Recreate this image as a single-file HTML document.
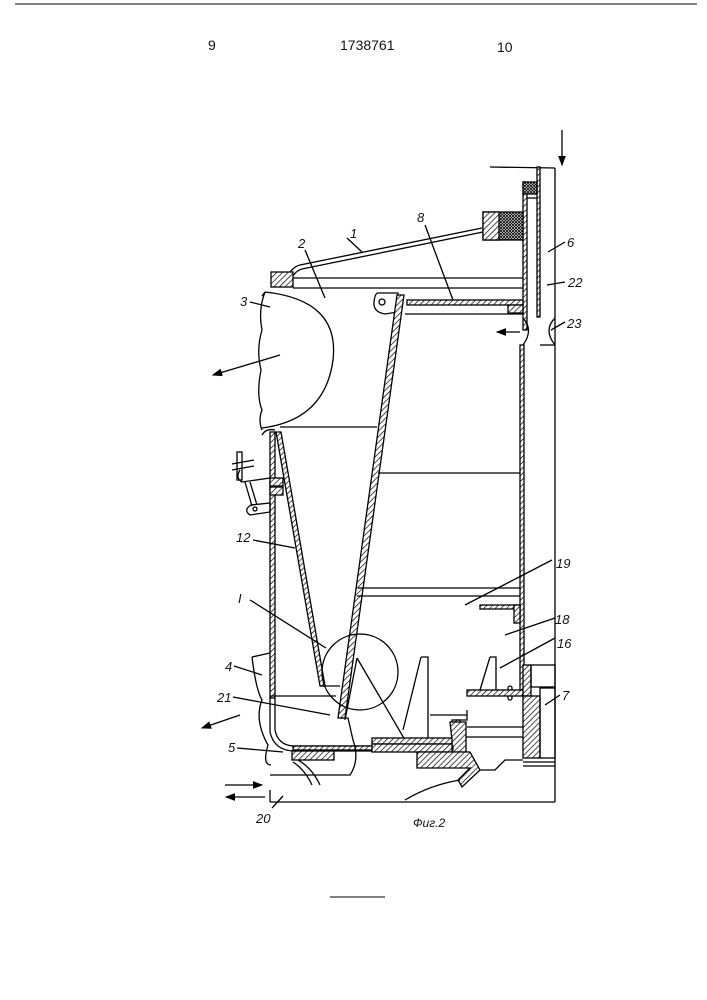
<!DOCTYPE html>
<html><head><meta charset="utf-8"><style>
html,body{margin:0;padding:0;background:#fff;}
svg{display:block}
text{font-family:"Liberation Sans",sans-serif;fill:#111}
.it{font-style:italic;font-size:13px}
</style></head><body>
<svg width="707" height="1000" viewBox="0 0 707 1000" xmlns="http://www.w3.org/2000/svg">
<defs>
<pattern id="h" width="4" height="4" patternUnits="userSpaceOnUse" patternTransform="rotate(45)">
<rect width="4" height="4" fill="#fff"/><line x1="0" y1="0" x2="0" y2="4" stroke="#000" stroke-width="1.4"/></pattern>
<pattern id="x" width="3" height="3" patternUnits="userSpaceOnUse">
<rect width="3" height="3" fill="#fff"/><path d="M0 0L3 3M3 0L0 3" stroke="#000" stroke-width="0.8"/></pattern>
<marker id="a" markerWidth="8" markerHeight="6" refX="7" refY="3" orient="auto"><path d="M0 0L8 3L0 6z" fill="#000"/></marker>
</defs>
<line x1="15" y1="4" x2="697" y2="4" stroke="#555" stroke-width="1.5"/>
<text x="208" y="50" font-size="14">9</text>
<text x="340" y="50" font-size="14">1738761</text>
<text x="497" y="52" font-size="14">10</text>
<line x1="330" y1="897" x2="385" y2="897" stroke="#000" stroke-width="1"/>

<g fill="none" stroke="#000" stroke-width="1.3">
<!-- right outer frame -->
<line x1="555" y1="168" x2="555" y2="802"/>
<line x1="490" y1="167" x2="555" y2="168"/>
<line x1="562" y1="130" x2="562" y2="165" marker-end="url(#a)"/>
<!-- column 6/22 -->
<rect x="537" y="167" width="3" height="150" fill="url(#h)"/>
<rect x="523" y="182" width="4" height="148" fill="url(#h)"/>
<rect x="523" y="182" width="14" height="12" fill="url(#x)"/>
<line x1="527" y1="198" x2="537" y2="198"/>
<!-- 23 orifice -->
<path d="M523 318 Q534 330 523 345"/><path d="M555 318 Q543 330 555 345"/>
<line x1="540" y1="345" x2="555" y2="345"/>
<line x1="520" y1="332" x2="497" y2="332" marker-end="url(#a)"/>
<!-- right wall lower -->
<rect x="520" y="345" width="4" height="345" fill="url(#h)"/>
<!-- top cover 1 -->
<path d="M290 272 Q295 266 300 265 L482 228"/>
<path d="M293 276 Q297 270 302 269 L483 232"/>
<rect x="483" y="212" width="40" height="28" fill="url(#x)"/>
<rect x="483" y="212" width="16" height="28" fill="url(#h)"/>
<!-- plates -->
<line x1="293" y1="278" x2="523" y2="278"/>
<line x1="293" y1="288" x2="523" y2="288"/>
<rect x="271" y="272" width="22" height="15" fill="url(#h)"/>
<!-- 8 plate -->
<rect x="407" y="300" width="116" height="5" fill="url(#h)"/>
<line x1="405" y1="314" x2="523" y2="314"/>
<rect x="508" y="305" width="15" height="8" fill="url(#h)"/>
<path d="M378 293 L398 293 L398 312 L385 314 Q373 312 374 302 Q375 293 378 293z"/>
<circle cx="382" cy="302" r="3"/>
<!-- big cone -->
<polygon points="397,295 404,295 345,718 338,718" fill="url(#h)"/>
<!-- dome 3 -->
<path d="M265 292 Q340 300 333 360 Q325 420 262 428"/>
<path d="M265 292 Q258 310 262 330 Q256 350 261 370 Q256 395 262 410 Q258 420 262 430"/>
<path d="M265 292 L262 296"/>
<!-- internal horizontal lines -->
<line x1="280" y1="427" x2="377" y2="427"/>
<line x1="378" y1="473" x2="520" y2="473"/>
<line x1="358" y1="588" x2="520" y2="588"/>
<line x1="357" y1="596" x2="520" y2="596"/>
<rect x="480" y="605" width="40" height="4" fill="url(#h)"/>
<rect x="514" y="605" width="6" height="18" fill="url(#h)"/>
<!-- left wall -->
<rect x="270" y="432" width="5" height="266" fill="url(#h)"/>
<path d="M262 435 Q266 428 275 430"/>
<polygon points="276,432 281,432 325,686 320,686" fill="url(#h)"/>
<rect x="270" y="478" width="13" height="8" fill="url(#h)"/>
<rect x="270" y="487" width="13" height="8" fill="url(#h)"/>
<line x1="320" y1="686" x2="340" y2="686"/>
<line x1="270" y1="696" x2="336" y2="696"/>
<!-- valve on left -->
<path d="M232 464 L254 460 M232 470 L254 466"/>
<rect x="237" y="452" width="5" height="28"/>
<path d="M240 470 Q235 478 242 482 L270 478"/>
<path d="M245 482 L252 506 M250 482 L257 505"/>
<path d="M251 505 Q243 510 250 515 L270 512 L270 503z"/>
<circle cx="255" cy="509" r="2"/>
<!-- circle I -->
<circle cx="360" cy="672" r="38"/>
<!-- triangles -->
<path d="M357 658 L405 740"/>
<path d="M357 658 L345 720"/>
<path d="M421 657 L428 657 L428 740 M421 657 L403 730"/>
<path d="M490 657 L496 657 L496 690 M490 657 L480 690"/>
<!-- 16 handle -->
<rect x="511" y="691" width="8" height="4"/>
<rect x="508" y="686" width="4" height="14" rx="2"/>
<rect x="467" y="690" width="59" height="6" fill="url(#h)"/>
<rect x="523" y="665" width="8" height="31" fill="url(#h)"/>
<rect x="523" y="696" width="17" height="62" fill="url(#h)"/>
<rect x="531" y="665" width="24" height="22"/>
<rect x="540" y="688" width="15" height="70"/>
<line x1="523" y1="762" x2="555" y2="762"/><line x1="523" y1="766" x2="555" y2="766"/>
<!-- stepped base -->
<path d="M467 710 L467 720 L457 720 L457 737 L523 737"/>
<line x1="467" y1="727" x2="523" y2="727"/>
<rect x="452" y="720" width="8" height="4" fill="url(#h)"/>
<polygon points="450,722 466,722 466,752 448,752 440,748 452,740" fill="url(#h)"/>
<line x1="430" y1="715" x2="467" y2="715"/>
<!-- bottom plate -->
<path d="M275 698 L275 730 Q278 745 293 746 L450 746"/>
<path d="M270 698 L270 732 Q274 750 293 751 L450 751"/>
<rect x="293" y="746" width="160" height="4" fill="url(#h)"/>
<rect x="292" y="751" width="42" height="9" fill="url(#h)"/>
<rect x="372" y="738" width="80" height="6" fill="url(#h)"/>
<rect x="372" y="744" width="80" height="8" fill="url(#h)"/>
<polygon points="417,752 470,752 480,770 462,787 458,780 470,768 417,768" fill="url(#h)"/>
<!-- broken outlines -->
<path d="M252 657 L270 653"/>
<path d="M252 657 Q256 690 262 700 Q254 720 268 745 Q262 765 271 765"/>
<path d="M340 718 L348 718 L353 740 Q360 760 350 775 L270 775"/>
<path d="M298 760 Q312 768 320 785 M293 762 Q305 770 312 785"/>
<path d="M405 800 Q430 785 460 780"/>
<path d="M480 770 L495 770 L505 760 L523 760"/>
<!-- ground -->
<line x1="270" y1="790" x2="270" y2="802"/>
<line x1="270" y1="802" x2="555" y2="802"/>
<line x1="225" y1="785" x2="262" y2="785" marker-end="url(#a)"/>
<line x1="265" y1="797" x2="226" y2="797" marker-end="url(#a)"/>
<!-- out arrows -->
<line x1="280" y1="355" x2="213" y2="375" marker-end="url(#a)"/>
<line x1="240" y1="715" x2="202" y2="728" marker-end="url(#a)"/>
<!-- leader lines -->
<line x1="347" y1="238" x2="362" y2="252"/>
<line x1="305" y1="250" x2="325" y2="298"/>
<line x1="425" y1="225" x2="453" y2="300"/>
<line x1="250" y1="302" x2="270" y2="307"/>
<line x1="565" y1="242" x2="548" y2="252"/>
<line x1="565" y1="282" x2="547" y2="285"/>
<line x1="565" y1="322" x2="551" y2="330"/>
<line x1="552" y1="560" x2="465" y2="605"/>
<line x1="555" y1="618" x2="505" y2="635"/>
<line x1="555" y1="638" x2="500" y2="668"/>
<line x1="560" y1="695" x2="545" y2="705"/>
<line x1="253" y1="540" x2="295" y2="548"/>
<line x1="250" y1="600" x2="326" y2="648"/>
<line x1="234" y1="666" x2="262" y2="675"/>
<line x1="233" y1="697" x2="330" y2="715"/>
<line x1="237" y1="748" x2="283" y2="752"/>
<line x1="272" y1="808" x2="283" y2="796"/>
</g>
<g class="it">
<text x="350" y="238">1</text>
<text x="298" y="248">2</text>
<text x="240" y="306">3</text>
<text x="417" y="222">8</text>
<text x="567" y="247">6</text>
<text x="568" y="287">22</text>
<text x="567" y="328">23</text>
<text x="556" y="568">19</text>
<text x="555" y="624">18</text>
<text x="557" y="648">16</text>
<text x="562" y="700">7</text>
<text x="236" y="542">12</text>
<text x="238" y="603">I</text>
<text x="225" y="671">4</text>
<text x="217" y="702">21</text>
<text x="228" y="752">5</text>
<text x="256" y="823">20</text>
<text x="413" y="827" font-size="12">Фиг.2</text>
</g>
</svg>
</body></html>
